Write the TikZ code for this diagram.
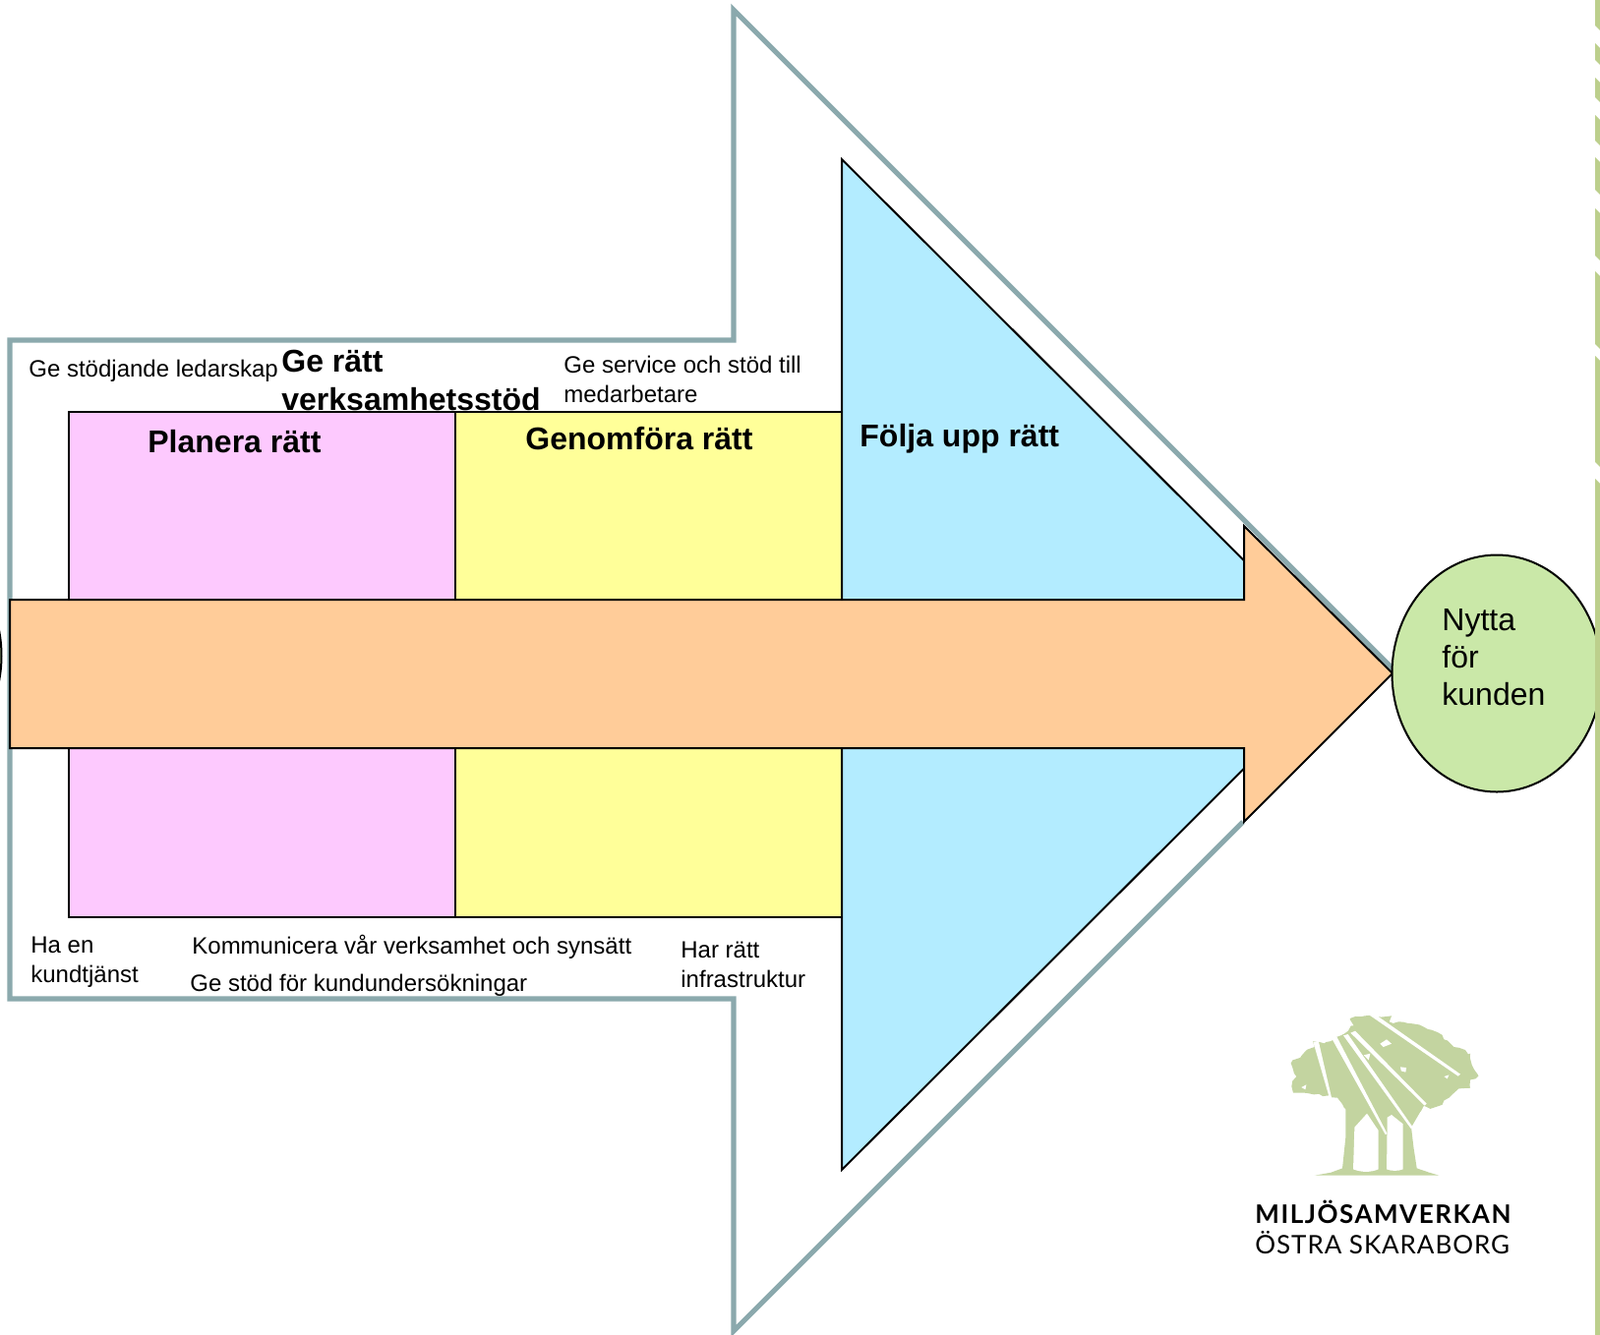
\documentclass[tikz,border=0pt]{standalone}
\usepackage{fontspec}
\setmainfont{Liberation Sans}
\newfontfamily\logofont{Lato}
\usetikzlibrary{shapes.geometric,decorations.pathmorphing}
\definecolor{kantgra}{HTML}{8BA9AD}
\definecolor{rosa}{HTML}{FDC9FE}
\definecolor{gul}{HTML}{FFFF99}
\definecolor{bla}{HTML}{B3ECFF}
\definecolor{orange}{HTML}{FFCC99}
\definecolor{gron}{HTML}{CAE8A8}
\definecolor{list}{HTML}{BCCF8C}
\definecolor{trad}{HTML}{C3D4A0}
\tikzset{
	liten/.style={anchor=base west,inner sep=0pt,font=\fontsize{12}{14.6}\selectfont,align=left},
	stor/.style={anchor=base west,inner sep=0pt,font=\fontsize{16}{19.5}\selectfont\bfseries,align=left},
	fas/.style={draw=black,line width=1pt},
	cirkel/.style={ellipse,fas,fill=gron,minimum width=106.5pt,minimum height=120.5pt,inner sep=0pt}
}
\begin{document}
\begin{tikzpicture}[x=0.5pt,y=-0.5pt]
		\useasboundingbox (0,0) rectangle (1627,1357);
		\fill[white] (0,0) rectangle (1627,1357);
		% yttre pilen
		\draw[kantgra,line width=2.6pt,miter limit=10] (1264,836) -- (746,1354) -- (746,1016) -- (10,1016) -- (10,346) -- (746,346) -- (746,10) -- (1418,682);
		% faserna
		\draw[fas,fill=bla] (856,162) -- (1371,676) -- (856,1190) -- cycle;
		\draw[fas,fill=rosa] (70,419) rectangle (463,933);
		\draw[fas,fill=gul] (463,419) rectangle (856,933);
		% pilen genom verksamheten
		\draw[fas,fill=orange,line join=miter] (10,610) -- (1265,610) -- (1265,535) -- (1416,685) -- (1265,836) -- (1265,761) -- (10,761) -- cycle;
		\node[cirkel] (kund) at (1522,685) {};
		\node[cirkel] (start) at (-105,667) {};
		% listen
		\foreach \a/\b in {-6/26,44/61,79/99,117/143,160/193,212/260,276/350,362/470,487/1365}
			\fill[list] (1622,\a) -- (1627,\a+5) -- (1627,\b+5) -- (1622,\b) -- cycle;
		% texter
		\node[liten] (ledarskap) at (29,383) {Ge stödjande ledarskap};
		\node[stor] (stod) at (286,417) {Ge rätt\\verksamhetsstöd};
		\node[liten] (service) at (573,409) {Ge service och stöd till\\medarbetare};
		\node[stor] (planera) at (150,460) {Planera rätt};
		\node[stor] (genomfora) at (534,457) {Genomföra rätt};
		\node[stor] (folja) at (874,454) {Följa upp rätt};
		\node[liten] (tjanst) at (31,999) {Ha en\\kundtjänst};
		\node[liten] (kommunicera) at (195,970) {Kommunicera vår verksamhet och synsätt};
		\node[liten] (undersok) at (193,1008) {Ge stöd för kundundersökningar};
		\node[liten] (infra) at (692,1004) {Har rätt\\infrastruktur};
		\node[anchor=base west,inner sep=0pt,align=left,font=\fontsize{16}{19}\selectfont] (nytta) at (1466,717) {Nytta\\för\\kunden};
		% loggan
		\begin{scope}[shift={(1220,1000)},x=0.1667pt,y=-0.1667pt]
		\fill[trad,decorate,decoration={random steps,segment length=2.5pt,amplitude=1pt}] (458,108) -- (525,96) -- (585,100) -- (578,118) -- (650,124) -- (725,150) -- (775,195) -- (825,215) -- (830,250) -- (850,283) -- (825,295) -- (825,320) -- (790,322) -- (760,350) -- (720,378) -- (680,380) -- (640,410) -- (540,395) -- (470,395) -- (440,380) -- (420,350) -- (375,345) -- (320,335) -- (285,335) -- (280,315) -- (295,285) -- (278,245) -- (310,222) -- (350,195) -- (345,178) -- (385,180) -- (440,155) -- (470,130) -- cycle;
		\fill[trad] (445,380) -- (680,380) -- (645,440) -- (652,500) -- (662,565) -- (700,578) -- (730,587) -- (350,587) -- (400,578) -- (435,565) -- (445,470) -- cycle;
		\fill[white] (468,568) -- (472,440) -- (510,398) -- (545,450) -- (545,568) .. controls (520,578) and (495,578) .. (468,568) -- cycle;
		\fill[white] (570,568) -- (572,410) -- (585,402) -- (620,430) -- (620,568) .. controls (605,574) and (585,574) .. (570,568) -- cycle;
		\fill[white] (346,180) -- (362,176) -- (402,350) -- (396,352) -- cycle;
		\fill[white] (402,168) -- (416,160) -- (572,460) -- (566,462) -- cycle;
		\fill[white] (438,160) -- (452,156) -- (650,440) -- (644,444) -- cycle;
		\fill[white] (460,152) -- (474,146) -- (692,368) -- (686,374) -- cycle;
		\fill[white] (515,96) -- (530,92) -- (795,278) -- (788,284) -- cycle;
		\fill[white] (612,256) -- (630,258) -- (628,272) -- (614,268) -- cycle;
		\fill[white] (550,185) -- (570,172) -- (585,185) -- (560,195) -- cycle;
		\fill[white] (500,220) -- (520,215) -- (515,235) -- cycle;
		\fill[white] (745,285) -- (760,280) -- (755,292) -- cycle;
		\fill[white] (310,318) -- (325,310) -- (322,325) -- cycle;
		\end{scope}
		\node[anchor=base west,inner sep=0pt,font=\logofont\bfseries\fontsize{13}{15}\selectfont\addfontfeature{LetterSpace=5.9}] (miljo) at (1276,1244) {MILJÖSAMVERKAN};
		\node[anchor=base west,inner sep=0pt,font=\logofont\fontsize{13}{15}\selectfont\addfontfeature{LetterSpace=3.6}] (ostra) at (1276,1275) {ÖSTRA SKARABORG};
\end{tikzpicture}
\end{document}
